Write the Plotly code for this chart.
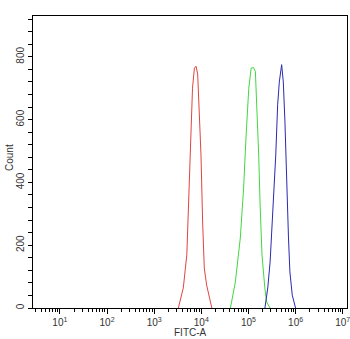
import plotly.graph_objects as go

# log10(FITC-A) positions and counts
red_log = [3.513, 3.618, 3.693, 3.743, 3.783, 3.813, 3.853, 3.888, 3.923, 3.953, 3.993, 4.028, 4.063, 4.113, 4.168, 4.223]
red_cnt = [0, 64, 170, 382, 541, 700, 764, 770, 745, 648, 487, 274, 127, 73, 32, 0]

green_log = [4.617, 4.722, 4.827, 4.897, 4.947, 5.007, 5.057, 5.107, 5.147, 5.177, 5.217, 5.247, 5.287, 5.347, 5.387, 5.457]
green_cnt = [0, 83, 223, 382, 541, 700, 764, 766, 753, 647, 487, 328, 169, 64, 19, 0]

blue_log = [5.349, 5.409, 5.459, 5.529, 5.579, 5.619, 5.654, 5.704, 5.739, 5.774, 5.809, 5.849, 5.879, 5.929, 5.999]
blue_cnt = [0, 64, 146, 328, 487, 647, 720, 775, 720, 593, 382, 223, 115, 41, 0]

x_tick_exp = [1, 2, 3, 4, 5, 6, 7]
x_tick_text = ["10<sup>1</sup>", "10<sup>2</sup>", "10<sup>3</sup>", "10<sup>4</sup>",
               "10<sup>5</sup>", "10<sup>6</sup>", "10<sup>7</sup>"]
y_tick_vals = [0, 200, 400, 600, 800]

fig = go.Figure()
for lg, cnt, col in [(red_log, red_cnt, "#e0453f"),
                     (green_log, green_cnt, "#3fd83f"),
                     (blue_log, blue_cnt, "#2a2ab0")]:
    fig.add_trace(go.Scatter(x=[10 ** v for v in lg], y=cnt, mode="lines",
                             line=dict(color=col, width=1), showlegend=False,
                             hoverinfo="skip"))

x_lo, x_hi = 0.43, 7.09
minor_x = [m * 10 ** d for d in range(0, 8) for m in range(2, 10)]
minor_x = [v for v in minor_x if 10 ** x_lo <= v <= 10 ** x_hi]

font = dict(family="Liberation Sans, Arial, sans-serif", size=10, color="#333333")

fig.update_layout(
    width=350, height=339,
    margin=dict(l=33, r=3, t=16, b=31, autoexpand=False),
    paper_bgcolor="white", plot_bgcolor="white",
    font=font,
    xaxis=dict(type="log", range=[x_lo, x_hi], automargin=False,
               tickvals=[10 ** e for e in x_tick_exp], ticktext=x_tick_text,
               ticklabeloverflow="allow",
               ticks="outside", ticklen=5, tickcolor="black",
               showline=True, linecolor="black", linewidth=1, mirror=True,
               showgrid=False, zeroline=False,
               minor=dict(tickvals=minor_x, ticks="outside", ticklen=3, tickcolor="black", showgrid=False)),
    yaxis=dict(range=[0, 930], tickvals=y_tick_vals, automargin=False,
               ticklabeloverflow="allow",
               ticks="outside", ticklen=4, tickcolor="black", tickangle=-90,
               showline=True, linecolor="black", linewidth=1, mirror=True,
               showgrid=False, zeroline=False,
               minor=dict(dtick=40, ticks="outside", ticklen=4, tickcolor="black", showgrid=False)),
    annotations=[
        dict(text="FITC-A", xref="paper", yref="paper", x=0.5, y=0, yshift=-24,
             xanchor="center", yanchor="middle", showarrow=False, font=font),
        dict(text="Count", xref="paper", yref="paper", x=0, y=0.5, xshift=-24, yshift=4,
             xanchor="center", yanchor="middle", textangle=-90, showarrow=False, font=font),
    ],
)

fig.write_html("out.html", config={"displayModeBar": False},
               post_script="document.body.style.margin='0';document.body.style.padding='0';")
